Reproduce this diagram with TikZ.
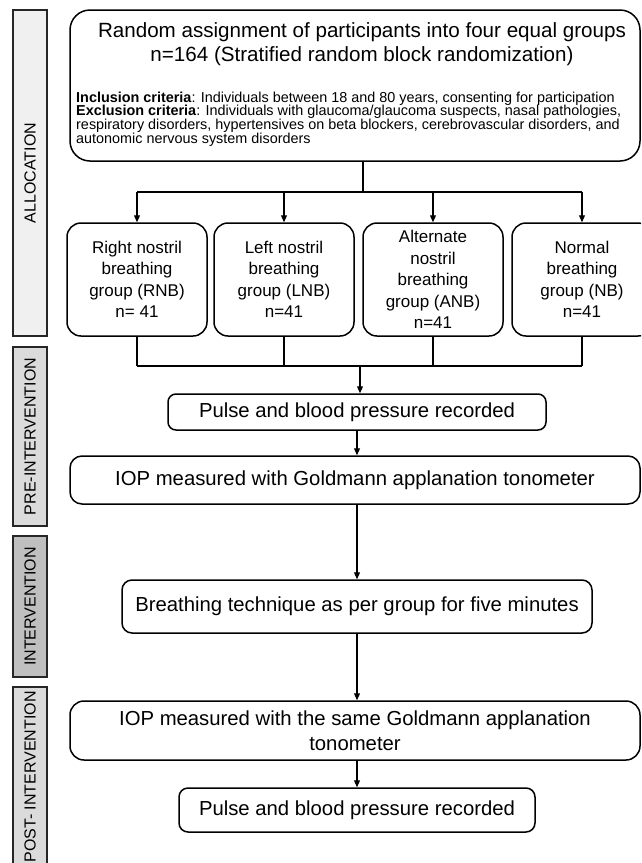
\documentclass[tikz,border=0pt]{standalone}
\usepackage{fontspec}
\setmainfont{Liberation Sans}
\usetikzlibrary{positioning, arrows.meta, calc}

\begin{document}
\begin{tikzpicture}[
        x=1pt, y=-1pt,
        >={Triangle[length=7pt, width=6pt]},
        phase/.style={draw=black!85, line width=1.1pt, rotate=90, inner sep=0pt, minimum height=34pt, font=\fontsize{16}{19}\selectfont},
        box/.style={draw, line width=1.5pt, align=center, inner sep=0pt, font=\fontsize{20.3}{25}\selectfont},
        group/.style={box, rounded corners=14pt, minimum width=140pt, minimum height=113pt, font=\fontsize{17}{21.5}\selectfont},
        link/.style={line width=1.1pt},
    ]

        \useasboundingbox (0,0) rectangle (641,863);
        \clip (0,0) rectangle (641,863);

        % Draw the phase bars on the left
        \node[phase, fill=black!6, minimum width=326pt] (P-alloc) at (30,173) {ALLOCATION};
        \node[phase, fill=black!14, minimum width=179pt] (P-pre) at (30,436.5) {PRE-INTERVENTION};
        \node[phase, fill=black!25, minimum width=141pt] (P-int) at (30,606.5) {INTERVENTION};
        \node[phase, fill=black!14, minimum width=180pt] (P-post) at (30,777) {POST- INTERVENTION};

        % Draw the assignment box
        \node[box, rounded corners=20pt, minimum width=570pt, minimum height=151pt] (assign) at (355,85.5) {};
        \node[font=\fontsize{20.6}{24}\selectfont, align=center] (title) at (362,44)
            {Random assignment of participants into four equal groups\\n=164 (Stratified random block randomization)};
        \node[font=\fontsize{14.4}{13.8}\selectfont, align=left, anchor=west, inner sep=0pt] (criteria) at (76,119)
            {\textbf{Inclusion criteria}: Individuals between 18 and 80 years, consenting for participation\\
             \textbf{Exclusion criteria}: Individuals with glaucoma/glaucoma suspects, nasal pathologies,\\
             respiratory disorders, hypertensives on beta blockers, cerebrovascular disorders, and\\
             autonomic nervous system disorders};

        % Draw the group boxes
        \foreach \name / \x / \txt in {RNB/137/{Right nostril\\breathing\\group (RNB)\\n= 41},
                                       LNB/284/{Left nostril\\breathing\\group (LNB)\\n=41},
                                       ANB/433/{Alternate\\nostril\\breathing\\group (ANB)\\n=41},
                                       NB/582/{Normal\\breathing\\group (NB)\\n=41}}
            \node[group] (G-\name) at (\x,279.5) {\txt};

        % Draw the measurement steps
        \node[box, rounded corners=8pt, minimum width=378pt, minimum height=36pt] (pulse-pre) at (357,412) {Pulse and blood pressure recorded};
        \node[box, rounded corners=12pt, minimum width=570pt, minimum height=48pt] (iop-pre) at (355,480) {IOP measured with Goldmann applanation tonometer};
        \node[box, rounded corners=10pt, minimum width=470pt, minimum height=53pt] (breathing) at (357,606.5) {Breathing technique as per group for five minutes};
        \node[box, rounded corners=14pt, minimum width=570pt, minimum height=59pt] (iop-post) at (355,730.5) {IOP measured with the same Goldmann applanation\\tonometer};
        \node[box, rounded corners=9pt, minimum width=356pt, minimum height=44pt] (pulse-post) at (357,810) {Pulse and blood pressure recorded};

        % Split from the assignment box to every group
        \coordinate (split) at (363,192);
        \draw[link] (assign.south -| split) -- (split);
        \draw[link] (G-RNB.north |- split) -- (G-NB.north |- split);
        \foreach \name in {RNB,LNB,ANB,NB}
            \draw[link, ->] (G-\name.north |- split) -- (G-\name.north);

        % Join every group into the pre-intervention steps
        \coordinate (join) at (360,366);
        \foreach \name in {RNB,LNB,ANB,NB}
            \draw[link] (G-\name.south) -- (G-\name.south |- join);
        \draw[link] (G-RNB.south |- join) -- (G-NB.south |- join);
        \draw[link, ->] (join) -- (join |- pulse-pre.north);

        % Connect the steps one after another
        \draw[link, ->] (pulse-pre.south) -- (pulse-pre.south |- iop-pre.north);
        \draw[link, ->] (pulse-pre.south |- iop-pre.south) -- (breathing.north);
        \draw[link, ->] (breathing.south) -- (breathing.south |- iop-post.north);
        \draw[link, ->] (breathing.south |- iop-post.south) -- (pulse-post.north);
    \end{tikzpicture}
\end{document}
